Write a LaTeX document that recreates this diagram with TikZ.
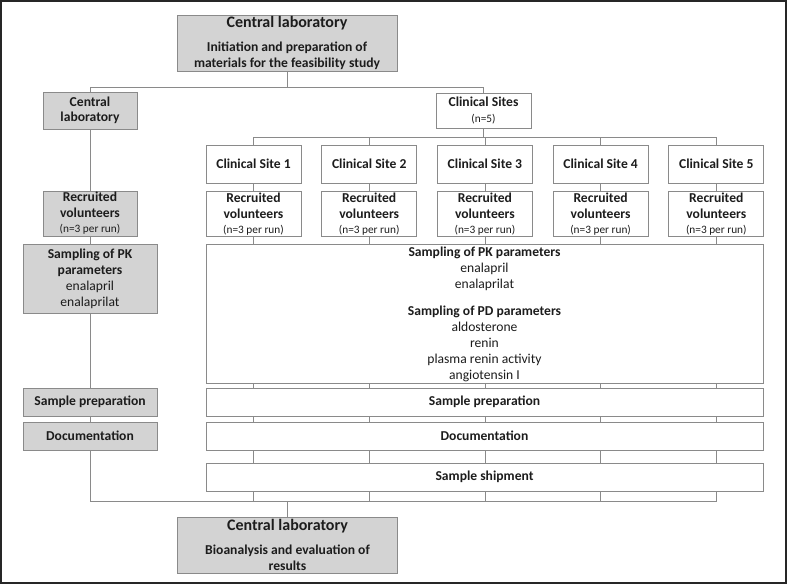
\documentclass[tikz,border=0pt]{standalone}
\usepackage{fontspec}
\setmainfont{Carlito}
\usetikzlibrary{positioning}
\definecolor{boxline}{HTML}{8A8A8A}
\definecolor{labfill}{HTML}{D3D3D3}
\definecolor{txt}{HTML}{1C1C1C}
\newcommand{\nsub}[1]{{\fontsize{11.3}{14}\selectfont\mdseries #1}}

\begin{document}
\begin{tikzpicture}[
    x=1pt, y=-1pt,
    box/.style={rectangle, draw=boxline, line width=0.8pt, align=center, inner sep=0.5pt, text=txt, font=\fontsize{13.6}{15.5}\selectfont\bfseries},
    labbox/.style={box, fill=labfill},
    sitebox/.style={box, minimum width=95pt, minimum height=38pt},
    volbox/.style={box, minimum width=95pt, minimum height=45pt},
    leftbox/.style={labbox, minimum width=134pt, minimum height=28pt},
    rowbox/.style={box, minimum width=557pt, minimum height=28pt},
    headbox/.style={labbox, minimum width=220pt, minimum height=56pt, font=\fontsize{13.6}{16}\selectfont\bfseries},
    link/.style={draw=boxline, line width=0.8pt},
    node distance=8pt
]
\useasboundingbox (0,0) rectangle (787,584);
\draw[line width=1.2pt, black!85] (1,1) rectangle (786,583);

% Zentrallabor oben
\node[headbox] (start) at (287,43) {{\fontsize{16}{18}\selectfont Central laboratory}\\[8pt]Initiation and preparation of\\materials for the feasibility study};

% linke Spalte
\node[labbox, minimum width=94pt, minimum height=37pt] (lab) at (90,110.5) {Central\\laboratory};
\node[labbox, minimum width=94pt, minimum height=45pt] (lvol) at (90,213.5) {Recruited\\volunteers\\\nsub{(n=3 per run)}};
\node[labbox, minimum width=134pt, minimum height=69pt, font=\fontsize{13.6}{16}\selectfont\bfseries] (lpk) at (90,278.5) {Sampling of PK\\parameters\\\mdseries enalapril\\\mdseries enalaprilat};
\node[leftbox] (lprep) at (90,402) {Sample preparation};
\node[leftbox] (ldoc) at (90,436) {Documentation};

% Kliniken
\node[box, minimum width=95pt, minimum height=35pt] (sites) at (483.5,110.5) {Clinical Sites\\\nsub{(n=5)}};
\foreach \i in {1,...,5} {
  \node[sitebox] (site\i) at ({253.5+115.7*(\i-1)},164) {Clinical Site \i};
  \node[volbox, below=of site\i] (vol\i) {Recruited\\volunteers\\\nsub{(n=3 per run)}};
}

% gemeinsame Zeilen
\node[box, minimum width=557pt, minimum height=139pt] (pd) at (484.5,313.5) {};
\node[anchor=north, align=center, text=txt, inner sep=0pt, font=\fontsize{13.6}{16}\selectfont] (pdtext) at ([yshift=-3pt]pd.north) {\textbf{Sampling of PK parameters}\\enalapril\\enalaprilat\\[11pt]\textbf{Sampling of PD parameters}\\aldosterone\\renin\\plasma renin activity\\angiotensin I};
\node[rowbox] (prep) at (484.5,402) {Sample preparation};
\node[rowbox] (doc) at (484.5,436) {Documentation};
\node[rowbox] (ship) at (484.5,477) {Sample shipment};

% Zentrallabor unten
\node[headbox] (final) at (287.5,545) {{\fontsize{16}{18}\selectfont Central laboratory}\\[8pt]Bioanalysis and evaluation of\\results};

% Verbindungen
\draw[link] (start.south) -- ++(0,16) coordinate (tsplit) -| (lab.north);
\draw[link] (tsplit) -| (sites.north);
\draw[link] (sites.south) -- ++(0,9) coordinate (ssplit);
\foreach \i in {1,...,5} {
  \draw[link] (ssplit) -| (site\i.north);
  \draw[link] (site\i) -- (vol\i);
  \draw[link] (vol\i) -- (vol\i |- pd.north);
  \draw[link] (site\i |- pd.south) -- (site\i |- prep.north);
  \draw[link] (site\i |- prep.south) -- (site\i |- doc.north);
  \draw[link] (site\i |- doc.south) -- (site\i |- ship.north);
}
\draw[link] (lab) -- (lvol);
\draw[link] (lvol) -- (lpk);
\draw[link] (lpk) -- (lprep);
\draw[link] (lprep) -- (ldoc);
\draw[link] (ldoc.south) -- ++(0,51) coordinate (bsplit) -| (site5 |- ship.south);
\foreach \i in {1,...,4}
  \draw[link] (site\i |- ship.south) -- (site\i |- bsplit);
\draw[link] (final.north) -- (final.north |- bsplit);

\end{tikzpicture}
\end{document}
